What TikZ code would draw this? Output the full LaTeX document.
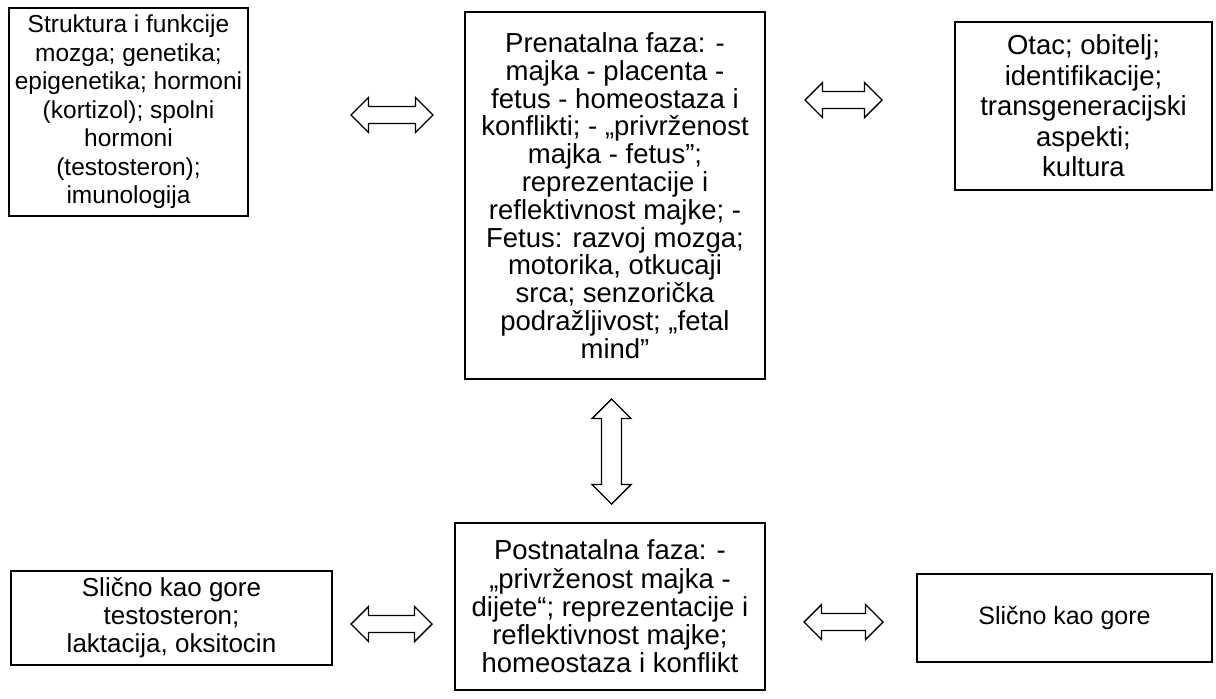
\documentclass[tikz,border=0pt]{standalone}
\usepackage{fontspec}
\setmainfont{Liberation Sans}
\newcommand\harrow[5]{% x1,x2,yc,halfhead,halfshaft
\draw[blk] (#1,#3) -- (#1+#4,#3-#4) -- (#1+#4,#3-#5) -- (#2-#4,#3-#5) -- (#2-#4,#3-#4) -- (#2,#3) -- (#2-#4,#3+#4) -- (#2-#4,#3+#5) -- (#1+#4,#3+#5) -- (#1+#4,#3+#4) -- cycle;}
\newcommand\varrow[5]{% y1,y2,xc,halfhead,halfshaft
\draw[blk] (#3,#1) -- (#3+#4,#1+#4) -- (#3+#5,#1+#4) -- (#3+#5,#2-#4) -- (#3+#4,#2-#4) -- (#3,#2) -- (#3-#4,#2-#4) -- (#3-#5,#2-#4) -- (#3-#5,#1+#4) -- (#3-#4,#1+#4) -- cycle;}
\begin{document}
\begin{tikzpicture}[x=1pt,y=-1pt,
  frame/.style={draw, line width=2pt, inner sep=0pt},
  txt/.style={align=center, inner sep=0pt},
  fs/.style 2 args={font=\fontsize{#1}{#2}\selectfont},
  blk/.style={draw, line width=1.4pt, line join=miter}]
\useasboundingbox (0,0) rectangle (1216,699);
% frames
\node[frame, minimum width=239, minimum height=208] (bio) at (128.5,112) {};
\node[frame, minimum width=300, minimum height=367] (pre) at (615,195.5) {};
\node[frame, minimum width=257, minimum height=168] (otac) at (1083.5,106) {};
\node[frame, minimum width=321, minimum height=94] (slicno1) at (171.5,618) {};
\node[frame, minimum width=310, minimum height=167] (post) at (610,606.5) {};
\node[frame, minimum width=295, minimum height=88] (slicno2) at (1064.5,618) {};
% texts
\node[txt, fs={24.5}{28.5}] (biot) at (bio.center)
 {Struktura i funkcije\\ mozga; genetika;\\ epigenetika; hormoni\\ (kortizol); spolni\\ hormoni\\ (testosteron);\\ imunologija};
\node[txt, fs={27.5}{27.8}] (pret) at (pre.center)
 {Prenatalna faza: -\\ majka - placenta -\\ fetus - homeostaza i\\ konflikti; - „privrženost\\ majka - fetus”;\\ reprezentacije i\\ reflektivnost majke; -\\ Fetus: razvoj mozga;\\ motorika, otkucaji\\ srca; senzorička\\ podražljivost; „fetal\\ mind”};
\node[txt, fs={27.5}{30.5}] (otact) at (otac.center)
 {Otac; obitelj;\\ identifikacije;\\ transgeneracijski\\ aspekti;\\ kultura};
\node[txt, fs={26}{28}] (slicno1t) at (slicno1.center)
 {Slično kao gore\\ testosteron;\\ laktacija, oksitocin};
\node[txt, fs={27.5}{28.3}] (postt) at (post.center)
 {Postnatalna faza: -\\ „privrženost majka -\\ dijete“; reprezentacije i\\ reflektivnost majke;\\ homeostaza i konflikt};
\node[txt, fs={25}{28}] (slicno2t) at (slicno2.center) {Slično kao gore};
% block arrows
\harrow{351}{433}{115}{17.5}{8.5}
\harrow{805}{882}{100}{17.5}{8.5}
\harrow{351}{432}{624}{17.5}{8.5}
\harrow{804}{883}{622}{17.5}{8.5}
\varrow{399}{504}{611.5}{19.5}{10}
\end{tikzpicture}
\end{document}
